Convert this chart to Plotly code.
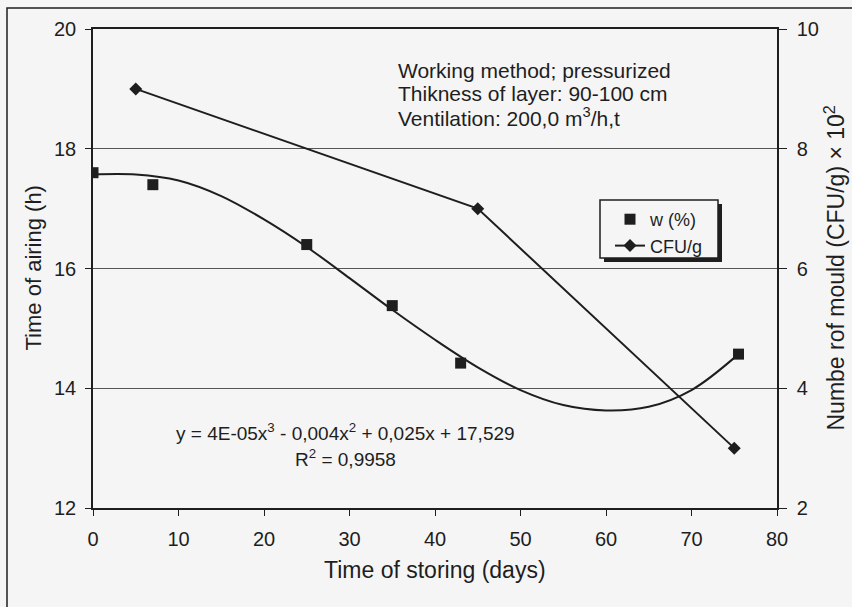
import plotly.graph_objects as go

# ---- data ----
w_days = [0, 7, 25, 35, 43, 75.5]
w_hours = [17.6, 17.4, 16.4, 15.38, 14.42, 14.57]

trend_days = [0, 5, 10, 15, 20, 25, 30, 35, 40, 45, 50, 55, 60, 65, 70, 75.5]
trend_hours = [17.57, 17.57, 17.47, 17.21, 16.82, 16.36, 15.84, 15.31, 14.81, 14.35,
               13.97, 13.72, 13.63, 13.69, 13.97, 14.57]

cfu_days = [5, 45, 75]
cfu_values = [9.0, 7.0, 3.0]

left_ticks = [12, 14, 16, 18, 20]
right_ticks = [2, 4, 6, 8, 10]
x_ticks = [0, 10, 20, 30, 40, 50, 60, 70, 80]

info_lines = ["Working method; pressurized",
              "Thikness of layer: 90-100 cm",
              "Ventilation: 200,0 m<sup>3</sup>/h,t"]
equation_lines = ["y = 4E-05x<sup>3</sup> - 0,004x<sup>2</sup> + 0,025x + 17,529",
                  "R<sup>2</sup> = 0,9958"]

FONT = "Arial, Liberation Sans, sans-serif"
INK = "#1e1e1e"
BG = "#f5f5f5"

# plot-area geometry (pixels) used to place free text
L, R, T, B = 93, 777, 29, 508
W, H = R - L, B - T


def px(x):
    return (x - L) / W


def py(y):
    return (B - y) / H


fig = go.Figure()

fig.add_trace(go.Scatter(
    x=trend_days, y=trend_hours, mode="lines",
    line=dict(color=INK, width=2, shape="spline", smoothing=1.0),
    showlegend=False, hoverinfo="skip"))

fig.add_trace(go.Scatter(
    x=w_days, y=w_hours, mode="markers", name="w (%)",
    marker=dict(symbol="square", size=11, color=INK)))

fig.add_trace(go.Scatter(
    x=cfu_days, y=cfu_values, mode="lines+markers", name="CFU/g", yaxis="y2",
    line=dict(color=INK, width=2),
    marker=dict(symbol="diamond", size=10, color=INK)))

axis_common = dict(showline=True, linecolor=INK, linewidth=1.5, ticks="outside", tickcolor=INK,
                   tickfont=dict(family=FONT, size=20, color=INK), zeroline=False)

fig.update_layout(
    width=852, height=607,
    margin=dict(l=L, r=852 - R, t=T, b=607 - B),
    paper_bgcolor=BG, plot_bgcolor=BG,
    font=dict(family=FONT, color=INK),
    xaxis=dict(range=[0, 80], tickvals=x_ticks, showgrid=False, ticklen=6, mirror=True,
               ticklabelstandoff=6, **axis_common),
    yaxis=dict(range=[12, 20], tickvals=left_ticks, showgrid=True, gridcolor="#555555", gridwidth=1,
               ticklen=6, ticklabelstandoff=5, **axis_common),
    yaxis2=dict(range=[2, 10], tickvals=right_ticks, overlaying="y", side="right", showgrid=False,
                ticklen=8, ticklabelstandoff=6, **axis_common),
    legend=dict(x=px(610), y=py(201), xanchor="left", yanchor="top",
                bgcolor="rgba(0,0,0,0)", borderwidth=0,
                font=dict(family=FONT, size=18, color=INK), itemwidth=30, tracegroupgap=0),
    showlegend=True,
)

# axis titles
fig.add_annotation(text="Time of storing (days)", xref="paper", yref="paper", x=0.5, y=py(570),
                   yanchor="middle", showarrow=False, font=dict(family=FONT, size=23, color=INK))
fig.add_annotation(text="Time of airing (h)", xref="paper", yref="paper", x=px(33), y=0.5,
                   textangle=-90, xanchor="center", yanchor="middle", showarrow=False,
                   font=dict(family=FONT, size=22, color=INK))
fig.add_annotation(text="Numbe rof mould (CFU/g) × 10<sup>2</sup>", xref="paper", yref="paper",
                   x=px(834), y=0.5, textangle=-90, xanchor="center", yanchor="middle", showarrow=False,
                   font=dict(family=FONT, size=23, color=INK))

# info text, one annotation per line
for i, line in enumerate(info_lines):
    fig.add_annotation(text=line, xref="paper", yref="paper", x=px(396), y=py(70 + 23.5 * i),
                       xanchor="left", yanchor="middle", showarrow=False,
                       font=dict(family=FONT, size=21, color=INK))

# trendline equation
for i, line in enumerate(equation_lines):
    fig.add_annotation(text=line, xref="paper", yref="paper", x=px(345), y=py(432 + 26 * i),
                       xanchor="center", yanchor="middle", showarrow=False,
                       font=dict(family=FONT, size=19, color=INK))

# legend box with drop shadow
fig.add_shape(type="rect", xref="paper", yref="paper",
              x0=px(604), x1=px(722), y0=py(262), y1=py(204),
              fillcolor=INK, line=dict(width=0), layer="above")
fig.add_shape(type="rect", xref="paper", yref="paper",
              x0=px(600), x1=px(718), y0=py(258), y1=py(200),
              fillcolor=BG, line=dict(color=INK, width=1.5), layer="above")

# outer frame of the scanned figure
fig.add_shape(type="rect", xref="paper", yref="paper",
              x0=px(7), x1=px(870), y0=py(630), y1=py(8),
              line=dict(color=INK, width=1.5), fillcolor="rgba(0,0,0,0)", layer="below")

fig.write_html("out.html", config={"displayModeBar": False},
               post_script="document.body.style.margin='0';")
